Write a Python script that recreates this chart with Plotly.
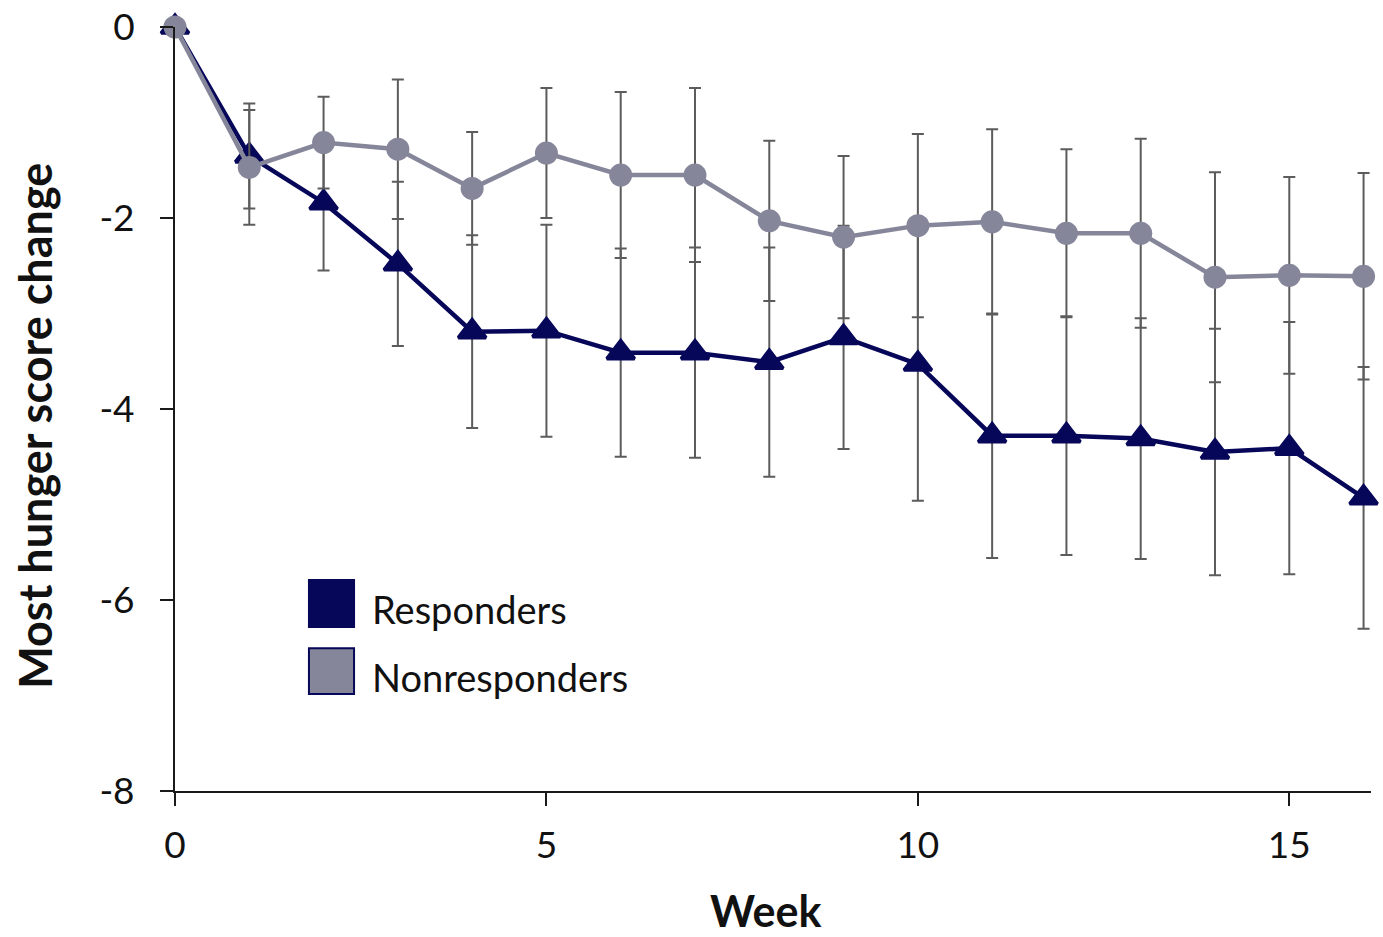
import plotly.graph_objects as go

weeks = list(range(0, 17))

resp_mean = [0, -1.35, -1.84, -2.48, -3.19, -3.18, -3.41, -3.41, -3.51, -3.25,
             -3.53, -4.28, -4.28, -4.31, -4.45, -4.41, -4.93]
resp_err = [0, 0.55, 0.71, 0.86, 1.01, 1.11, 1.09, 1.10, 1.20, 1.17,
            1.43, 1.28, 1.25, 1.26, 1.29, 1.32, 1.37]

nonresp_mean = [0, -1.47, -1.21, -1.28, -1.69, -1.32, -1.55, -1.55, -2.03, -2.20,
                -2.08, -2.04, -2.16, -2.16, -2.62, -2.60, -2.61]
nonresp_err = [0, 0.60, 0.48, 0.73, 0.59, 0.68, 0.87, 0.91, 0.84, 0.85,
               0.96, 0.97, 0.88, 0.99, 1.10, 1.03, 1.08]

series_names = ["Responders", "Nonresponders"]
x_ticks = [0, 5, 10, 15]
y_ticks = [0, -2, -4, -6, -8]
y_tick_text = ["0", "-2", "-4", "-6", "-8"]

NAVY = "#07075a"
GRAY = "#858699"
ERR = "#5c5c5c"
FONT = "Lato"

fig = go.Figure()

fig.add_trace(go.Scatter(
    x=weeks, y=resp_mean, mode="lines+markers", name=series_names[0],
    line=dict(color=NAVY, width=4.5),
    marker=dict(symbol="triangle-up", size=24, color=NAVY,
                line=dict(color=NAVY, width=3.5)),
    error_y=dict(type="data", array=resp_err, visible=True,
                 color=ERR, thickness=2, width=6),
    cliponaxis=False, showlegend=False,
))

fig.add_trace(go.Scatter(
    x=weeks, y=nonresp_mean, mode="lines+markers", name=series_names[1],
    line=dict(color=GRAY, width=4.5),
    marker=dict(symbol="circle", size=23, color=GRAY),
    error_y=dict(type="data", array=nonresp_err, visible=True,
                 color=ERR, thickness=2, width=6),
    cliponaxis=False, showlegend=False,
))

axis_common = dict(
    showgrid=False, zeroline=False, showline=True, linecolor="#1a1a1a",
    linewidth=2, ticks="outside", ticklen=13, tickwidth=2, tickcolor="#1a1a1a",
    tickfont=dict(family=FONT, size=37, color="#111111"),
    automargin=False,
)

fig.update_xaxes(range=[0, 16.1], tickvals=x_ticks, ticklabelstandoff=8,
                 **axis_common)
fig.update_yaxes(range=[-8, 0], tickvals=y_ticks, ticktext=y_tick_text,
                 ticklabelstandoff=18, **axis_common)

# Legend (drawn manually to match large square swatches)
sq = [
    dict(x0=0.112, x1=0.1497, y0=0.2147, y1=0.2762, fill=NAVY, label_y=0.238),
    dict(x0=0.112, x1=0.1497, y0=0.127, y1=0.187, fill=GRAY, label_y=0.149),
]
for s, name in zip(sq, series_names):
    fig.add_shape(type="rect", xref="paper", yref="paper",
                  x0=s["x0"], x1=s["x1"], y0=s["y0"], y1=s["y1"],
                  fillcolor=s["fill"], line=dict(color=NAVY, width=2))
    fig.add_annotation(xref="paper", yref="paper", x=0.163, y=s["label_y"],
                       xanchor="left", yanchor="middle", text=name,
                       showarrow=False,
                       font=dict(family=FONT, size=38, color="#111111"))

# Axis titles
fig.add_annotation(xref="paper", yref="paper", x=0.494, y=0, yshift=-119,
                   xanchor="center", yanchor="middle", text="<b>Week</b>",
                   showarrow=False,
                   font=dict(family=FONT, size=43, color="#111111"))
fig.add_annotation(xref="paper", yref="paper", x=0, xshift=-140, y=0.478,
                   xanchor="center", yanchor="middle",
                   text="<b>Most hunger score change</b>", textangle=-90,
                   showarrow=False,
                   font=dict(family=FONT, size=45, color="#111111"))

fig.update_layout(
    width=1383, height=937,
    margin=dict(l=175, r=12, t=27, b=146),
    paper_bgcolor="white", plot_bgcolor="white",
)

fig.write_html("out.html")
